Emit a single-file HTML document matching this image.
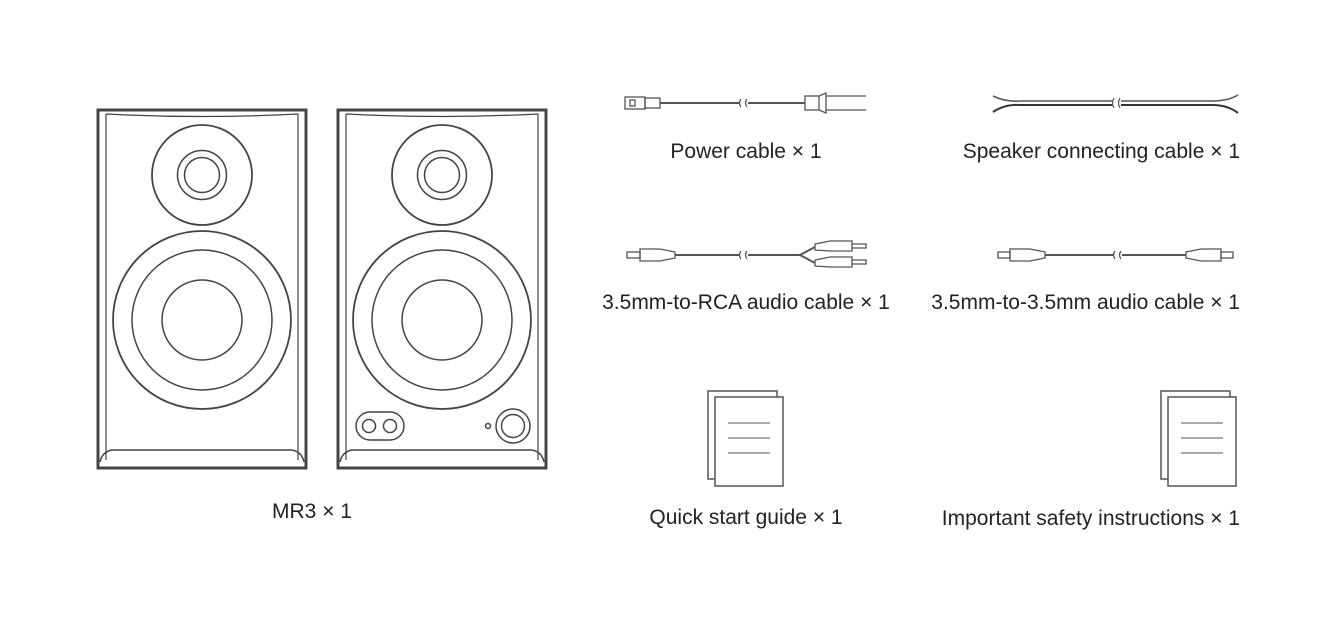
<!DOCTYPE html>
<html><head><meta charset="utf-8"><style>
html,body{margin:0;padding:0;background:#fff}
svg{display:block}
text{font-family:"Liberation Sans","DejaVu Sans",sans-serif;font-size:21px;fill:#222}
</style></head><body>
<svg width="1320" height="620" viewBox="0 0 1320 620" xmlns="http://www.w3.org/2000/svg">
<defs>
<g id="spk" fill="none" stroke="#444">
  <rect x="0" y="0" width="208" height="358" stroke-width="3"/>
  <path d="M8 4 Q104 9 200 4 M8 4 V350 M200 4 V350" stroke-width="1.2"/>
  <path d="M2 352 Q4 342 14 340 L194 340 Q204 342 206 352" stroke-width="1.5"/>
  <circle cx="104" cy="65" r="50" stroke-width="1.8"/>
  <circle cx="104" cy="65" r="24.5" stroke-width="1.5"/>
  <circle cx="104" cy="65" r="17.5" stroke-width="1.5"/>
  <circle cx="104" cy="210" r="89" stroke-width="1.8"/>
  <circle cx="104" cy="210" r="70" stroke-width="1.5"/>
  <circle cx="104" cy="210" r="40" stroke-width="1.5"/>
</g>
<g id="doc" fill="#fff" stroke="#555" stroke-width="1.5">
  <rect x="0" y="0" width="69" height="88"/>
  <rect x="7" y="6" width="68" height="89"/>
  <path d="M20 32 H62 M20 47 H62 M20 62 H62" stroke="#777" stroke-width="1.2"/>
</g>
</defs>
<use href="#spk" x="98" y="110"/>
<use href="#spk" x="338" y="110"/>
<g fill="none" stroke="#444" stroke-width="1.5">
  <rect x="356" y="412" width="48" height="28" rx="14"/>
  <circle cx="369" cy="426" r="6.5"/><circle cx="390" cy="426" r="6.5"/>
  <circle cx="488" cy="426" r="2.5"/>
  <circle cx="513" cy="426" r="17"/><circle cx="513" cy="426" r="11.5"/>
</g>
<text x="312" y="518" text-anchor="middle">MR3 × 1</text>

<!-- power cable -->
<g fill="none" stroke="#555" stroke-width="1.3">
  <rect x="625" y="97" width="20" height="12"/><rect x="630" y="100" width="5" height="6"/>
  <rect x="645" y="98" width="15" height="10"/>
  <path d="M660 103 H740 M748 103 H805" stroke-width="2"/>
  <path d="M741 99 q-3 4 0 8 M747 99 q-3 4 0 8"/>
  <rect x="805" y="96" width="14" height="14"/>
  <path d="M819 96 L826 93 L826 113 L819 110 M826 96 H866 M826 110 H866" />
</g>
<text x="746" y="158" text-anchor="middle">Power cable × 1</text>

<!-- speaker cable -->
<g fill="none" stroke="#555" stroke-width="1.6">
  <path d="M993 96 Q1005 102 1020 101 H1113 M1121 101 H1212 Q1228 101 1238 95"/>
  <path d="M993 112 Q1005 104 1020 105 H1113 M1121 105 H1212 Q1228 105 1238 113" stroke="#333" stroke-width="2"/>
  <path d="M1114 98 q-3 5 0 10 M1120 98 q-3 5 0 10" stroke-width="1.2"/>
</g>
<text x="1240" y="158" text-anchor="end">Speaker connecting cable × 1</text>

<!-- RCA cable -->
<g fill="none" stroke="#555" stroke-width="1.3">
  <rect x="627" y="252" width="13" height="6"/>
  <path d="M640 249 H660 L675 252 V258 L660 261 H640 Z"/>
  <path d="M675 255 H740 M748 255 H800 L815 247 M800 255 L815 263" stroke-width="2"/>
  <path d="M741 251 q-3 4 0 8 M747 251 q-3 4 0 8"/>
  <path d="M815 244 L830 241 H852 V251 H830 L815 250 Z M852 244 H866 V248 H852"/>
  <path d="M815 260 L830 257 H852 V267 H830 L815 266 Z M852 260 H866 V264 H852"/>
</g>
<text x="746" y="309" text-anchor="middle">3.5mm-to-RCA audio cable × 1</text>

<!-- 3.5mm cable -->
<g fill="none" stroke="#555" stroke-width="1.3">
  <rect x="998" y="252" width="12" height="6"/>
  <path d="M1010 249 H1030 L1045 252 V258 L1030 261 H1010 Z"/>
  <path d="M1045 255 H1114 M1122 255 H1186" stroke-width="2"/>
  <path d="M1115 251 q-3 4 0 8 M1121 251 q-3 4 0 8"/>
  <path d="M1186 252 L1201 249 H1221 V261 H1201 L1186 258 Z"/>
  <rect x="1221" y="252" width="12" height="6"/>
</g>
<text x="1240" y="309" text-anchor="end">3.5mm-to-3.5mm audio cable × 1</text>

<use href="#doc" x="708" y="391"/>
<use href="#doc" x="1161" y="391"/>
<text x="746" y="524" text-anchor="middle">Quick start guide × 1</text>
<text x="1240" y="525" text-anchor="end">Important safety instructions × 1</text>
</svg>
</body></html>
